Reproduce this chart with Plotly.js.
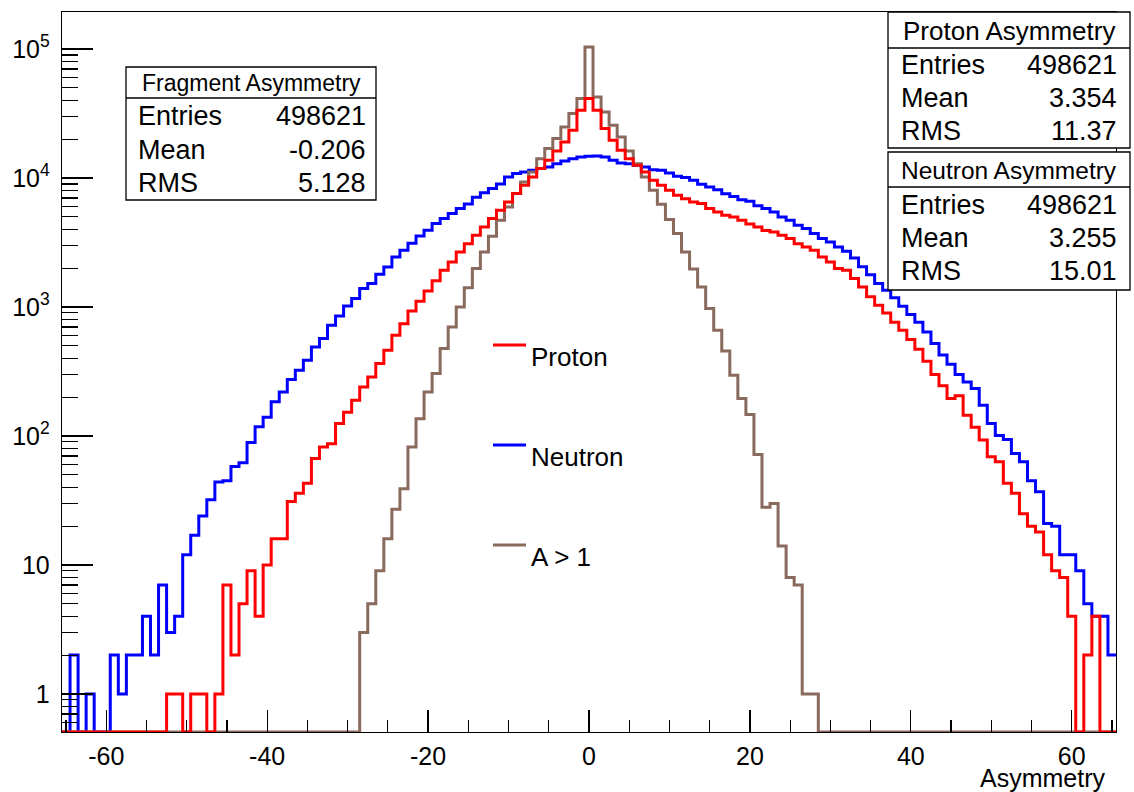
<!DOCTYPE html>
<html><head><meta charset="utf-8">
<script src="https://cdn.plot.ly/plotly-3.0.1.min.js"></script>
<style>html,body{margin:0;padding:0;background:#fff}#chart{width:1134px;height:792px}</style>
</head><body><div id="chart"></div>
<script>
// Histogram binning: 131 bins of width 1, from -65.5 to 65.5
const binLow = -65.5;
const binWidth = 1;

// Neutron Asymmetry counts, bins -65 ... 65
const neutron = [
  0, 2, 0, 1, 0, 0, 2, 1, 2, 2,
  4, 2, 7, 3, 4, 12, 17, 24, 32, 44,
  45, 58, 62, 89, 118, 140, 184, 219, 274, 323,
  386, 490, 569, 721, 851, 1018, 1162, 1389, 1518, 1792,
  2042, 2443, 2754, 3120, 3548, 3934, 4434, 4843, 5295, 5795,
  6300, 7100, 7700, 8300, 9000, 10184, 10820, 11133, 11476, 11830,
  12170, 12920, 13540, 14130, 14550, 14720, 14800, 14550, 13710, 13060,
  12920, 12530, 12170, 11610, 11476, 10930, 10300, 10070, 9590, 8930,
  8510, 8120, 7560, 7200, 6790, 6600, 6100, 5795, 5460, 4990,
  4700, 4300, 4055, 3707, 3390, 3192, 2918, 2700, 2400, 2050,
  1780, 1520, 1350, 1180, 1015, 875, 760, 640, 520, 425,
  360, 300, 262, 233, 173, 125, 101, 94, 73, 63,
  45, 37, 21, 20, 12, 12, 9, 5, 4, 4,
  2
];

// Proton Asymmetry counts, bins -65 ... 65
const proton = [
  0, 0, 0, 0, 0, 0, 0, 0, 0, 0,
  0, 0, 0, 1, 1, 0, 1, 1, 0, 1,
  7, 2, 5, 9, 4, 10, 16, 16, 31, 36,
  43, 67, 82, 87, 125, 153, 189, 240, 287, 364,
  462, 603, 743, 930, 1110, 1330, 1600, 1925, 2233, 2670,
  3099, 3594, 4172, 4843, 5623, 6518, 7568, 8778, 10180, 11830,
  13710, 16190, 19010, 23420, 33480, 41270, 33480, 24150, 19600, 16400,
  14130, 12530, 11130, 9590, 8780, 8030, 7350, 6920, 6520, 6340,
  5795, 5460, 5140, 4990, 4700, 4400, 4172, 3925, 3811, 3594,
  3390, 3099, 2918, 2754, 2443, 2233, 1985, 1925, 1660, 1430,
  1200, 1030, 900, 760, 660, 560, 470, 380, 300, 245,
  195, 205, 145, 117, 93, 69, 63, 43, 36, 25,
  20, 18, 12, 9, 8, 4, 0, 2, 4, 0,
  0
];

// Fragment (A > 1) Asymmetry counts, bins -65 ... 65
const fragment = [
  0, 0, 0, 0, 0, 0, 0, 0, 0, 0,
  0, 0, 0, 0, 0, 0, 0, 0, 0, 0,
  0, 0, 0, 0, 0, 0, 0, 0, 0, 0,
  0, 0, 0, 0, 0, 0, 0,
  3, 5, 9, 16, 27, 39, 82, 136, 219, 305,
  476, 700, 1000, 1410, 1985, 2670, 3540, 4700, 5960, 7570,
  9316, 11130, 14130, 16900, 20200, 24850, 31560, 41270, 103700, 42460,
  32500, 25640, 20800, 16190, 12920, 10180, 8030, 6250, 4760, 3707,
  2670, 1970, 1430, 972, 659, 456, 296, 195, 147, 72,
  28, 30, 14, 8, 7, 1, 1,
  0, 0, 0, 0, 0, 0, 0, 0, 0, 0,
  0, 0, 0, 0, 0, 0, 0, 0, 0, 0,
  0, 0, 0, 0, 0, 0, 0, 0, 0, 0,
  0, 0, 0, 0, 0, 0, 0
];

const legendNames = ['Proton', 'Neutron', 'A > 1'];
const colors = {proton: '#ff0000', neutron: '#0000ff', fragment: '#8a6a5c'};

const stats = [
  {title: 'Fragment Asymmetry', entries: '498621', mean: '-0.206', rms: '5.128'},
  {title: 'Proton Asymmetry', entries: '498621', mean: '3.354', rms: '11.37'},
  {title: 'Neutron Asymmetry', entries: '498621', mean: '3.255', rms: '15.01'}
];

const xTickVals = [-60, -40, -20, 0, 20, 40, 60];
const xTickText = ['-60', '-40', '-20', '0', '20', '40', '60'];
const yTickVals = [1, 10, 100, 1000, 10000, 100000];
const yTickText = ['1', '10', '10<sup>2</sup>', '10<sup>3</sup>', '10<sup>4</sup>', '10<sup>5</sup>'];

const yLogMin = -0.295, yLogMax = 5.287;
const yFloor = Math.pow(10, yLogMin);

function stepTrace(counts, color) {
  const xs = [], ys = [];
  for (let i = 0; i < counts.length; i++) {
    xs.push(binLow + i * binWidth);
    ys.push(counts[i] > 0 ? counts[i] : yFloor);
  }
  xs.push(binLow + counts.length * binWidth);
  ys.push(ys[ys.length - 1]);
  return {x: xs, y: ys, type: 'scatter', mode: 'lines',
    line: {shape: 'hv', color: color, width: 3}, hoverinfo: 'skip', showlegend: false};
}

// minor log ticks
const yMinor = [];
for (let e = -1; e <= 5; e++) for (let m = 2; m <= 9; m++) yMinor.push(m * Math.pow(10, e));

// geometry helpers (pixel -> paper)
const L = 62, R = 1116, T = 12, B = 732;
const px = x => (x - L) / (R - L);
const py = y => (B - y) / (B - T);

const FONT = 'Liberation Sans, Arial, Helvetica, sans-serif';
const shapes = [], annotations = [];

function statBox(s, x0, y0, x1, y1, divY, titleSize, rowYs, textX, valX) {
  shapes.push({type: 'rect', xref: 'paper', yref: 'paper', x0: px(x0), x1: px(x1), y0: py(y1), y1: py(y0),
    line: {color: '#000', width: 1.3}, fillcolor: '#fff', layer: 'above'});
  shapes.push({type: 'line', xref: 'paper', yref: 'paper', x0: px(x0), x1: px(x1), y0: py(divY), y1: py(divY),
    line: {color: '#000', width: 1.3}, layer: 'above'});
  annotations.push({xref: 'paper', yref: 'paper', x: px((x0 + x1) / 2), y: py((y0 + divY) / 2 + 1), text: s.title,
    showarrow: false, xanchor: 'center', yanchor: 'middle', font: {family: FONT, size: titleSize, color: '#000'}});
  const labels = ['Entries', 'Mean', 'RMS'];
  const vals = [s.entries, s.mean, s.rms];
  for (let i = 0; i < 3; i++) {
    annotations.push({xref: 'paper', yref: 'paper', x: px(textX), y: py(rowYs[i]), text: labels[i],
      showarrow: false, xanchor: 'left', yanchor: 'middle', font: {family: FONT, size: 27, color: '#000'}});
    annotations.push({xref: 'paper', yref: 'paper', x: px(valX), y: py(rowYs[i]), text: vals[i],
      showarrow: false, xanchor: 'right', yanchor: 'middle', font: {family: FONT, size: 27, color: '#000'}});
  }
}

statBox(stats[0], 126, 67, 376, 200, 98, 23, [116, 150, 183], 136, 368);
statBox(stats[1], 888, 12, 1130, 148, 48, 26, [65, 98, 131], 899, 1119);
statBox(stats[2], 888, 152, 1130, 290, 187, 24.5, [205, 238, 271], 899, 1119);

// legend
const legColors = [colors.proton, colors.neutron, colors.fragment];
const legY = [345, 445, 545];
for (let i = 0; i < 3; i++) {
  shapes.push({type: 'line', xref: 'paper', yref: 'paper', x0: px(493), x1: px(526), y0: py(legY[i]), y1: py(legY[i]),
    line: {color: legColors[i], width: 3}, layer: 'above'});
  annotations.push({xref: 'paper', yref: 'paper', x: px(529), y: py(legY[i] + 12), text: legendNames[i],
    showarrow: false, xanchor: 'left', yanchor: 'middle', font: {family: FONT, size: 26, color: '#000'}});
}

// x axis title
annotations.push({xref: 'paper', yref: 'paper', x: px(1108), y: py(778), text: 'Asymmetry',
  showarrow: false, xanchor: 'right', yanchor: 'middle', font: {family: FONT, size: 25, color: '#000'}});

const data = [stepTrace(neutron, colors.neutron), stepTrace(fragment, colors.fragment), stepTrace(proton, colors.proton)];

const layout = {
  width: 1134, height: 792,
  margin: {l: L, r: 1134 - R, t: T, b: 792 - B, pad: 0},
  paper_bgcolor: '#fff', plot_bgcolor: '#fff',
  showlegend: false,
  font: {family: FONT, size: 25, color: '#000'},
  xaxis: {
    range: [binLow, binLow + neutron.length * binWidth],
    tickvals: xTickVals, ticktext: xTickText,
    ticks: 'inside', ticklen: 22, tickwidth: 1.2, tickcolor: '#000',
    minor: {dtick: 5, tick0: 0, ticks: 'inside', ticklen: 12, tickwidth: 1.2, tickcolor: '#000', showgrid: false},
    showgrid: false, zeroline: false, showline: true, linecolor: '#000', linewidth: 1.3, mirror: true,
    tickfont: {family: FONT, size: 25, color: '#000'}, ticklabelstandoff: 2
  },
  yaxis: {
    type: 'log', range: [yLogMin, yLogMax],
    tickvals: yTickVals, ticktext: yTickText,
    ticks: 'inside', ticklen: 31, tickwidth: 1.2, tickcolor: '#000',
    minor: {tickvals: yMinor, ticks: 'inside', ticklen: 16, tickwidth: 1.2, tickcolor: '#000', showgrid: false},
    showgrid: false, zeroline: false, showline: true, linecolor: '#000', linewidth: 1.3, mirror: true,
    tickfont: {family: FONT, size: 25, color: '#000'}, ticklabelstandoff: 6
  },
  shapes: shapes,
  annotations: annotations
};

Plotly.newPlot('chart', data, layout, {staticPlot: true, displayModeBar: false});
</script>
</body></html>
